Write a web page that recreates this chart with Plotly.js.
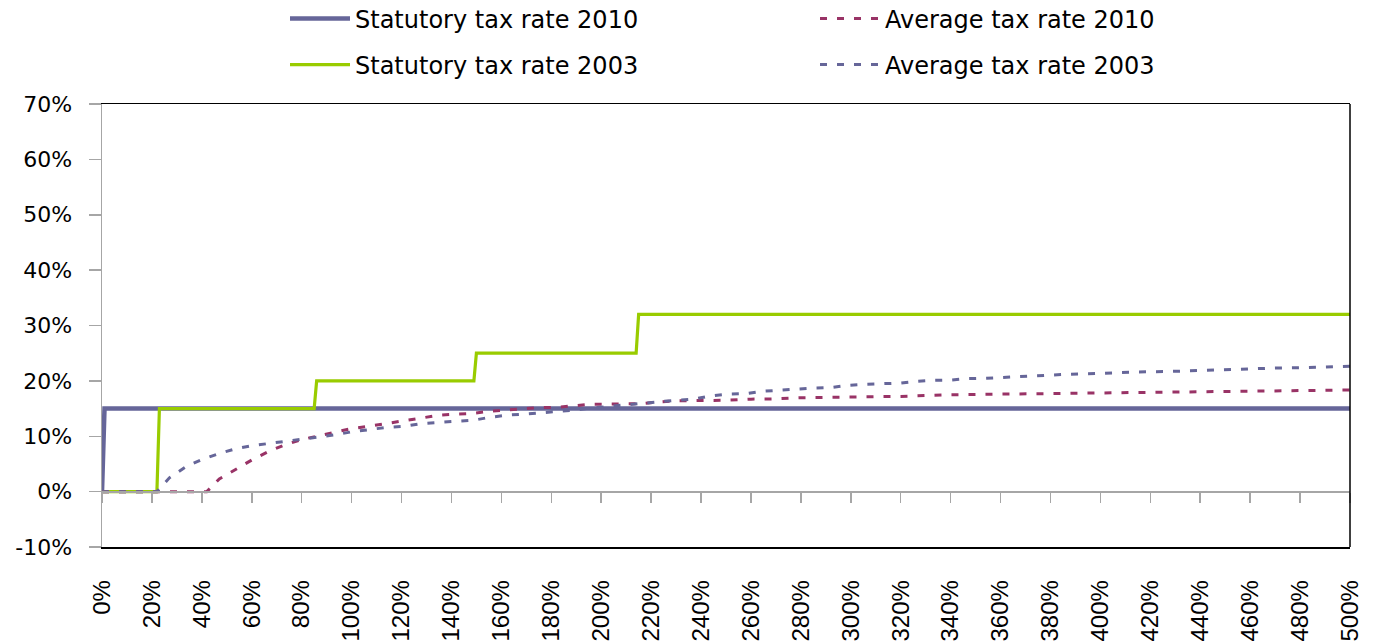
<!DOCTYPE html>
<html>
<head>
<meta charset="utf-8">
<script src="https://cdn.plot.ly/plotly-3.0.1.min.js"></script>
<style>html,body{margin:0;padding:0;background:#fff;}#chart{width:1382px;height:642px;}</style>
</head>
<body>
<div id="chart"></div>
<script>
// Income as % of average wage (x) and tax rate in % (y)
const statX2010 = [0, 1, 500];
const statY2010 = [0, 15, 15];

const statX2003 = [0, 22, 23, 85, 86, 149, 150, 214, 215, 500];
const statY2003 = [0, 0, 15, 15, 20, 20, 25, 25, 32, 32];

const avgX2010 = [0, 20, 42, 47, 50, 55, 60, 67, 73, 80, 87, 93, 100, 107, 114, 121, 128, 135, 142, 148, 155, 162, 168, 176, 182, 189, 196, 203, 210, 217, 223, 230, 240, 250, 260, 270, 280, 290, 300, 320, 340, 360, 380, 400, 420, 440, 460, 480, 500];
const avgY2010 = [0, 0, 0, 2.3, 3.1, 4.5, 5.7, 7.3, 8.4, 9.4, 10.1, 10.8, 11.4, 11.8, 12.3, 12.9, 13.3, 13.8, 14.0, 14.1, 14.5, 14.7, 15.0, 15.2, 15.2, 15.5, 15.8, 15.8, 15.9, 15.9, 16.2, 16.4, 16.45, 16.5, 16.7, 16.75, 16.95, 17.0, 17.05, 17.2, 17.5, 17.6, 17.7, 17.8, 18.0, 18.1, 18.2, 18.3, 18.35];

const avgX2003 = [0, 22, 27, 34, 40, 47, 54, 60, 67, 74, 80, 87, 94, 100, 107, 114, 121, 128, 135, 142, 149, 155, 162, 169, 175, 182, 189, 196, 203, 210, 217, 224, 230, 237, 244, 251, 258, 264, 271, 278, 285, 292, 299, 306, 313, 320, 326, 333, 340, 346, 353, 360, 373, 387, 400, 414, 428, 441, 455, 469, 483, 497, 500];
const avgY2003 = [0, 0, 2.5, 4.6, 5.8, 6.9, 7.8, 8.3, 8.7, 9.1, 9.4, 9.8, 10.3, 10.8, 11.2, 11.6, 11.8, 12.3, 12.5, 12.7, 12.9, 13.4, 13.8, 14.0, 14.2, 14.5, 14.7, 15.1, 15.4, 15.7, 15.9, 16.3, 16.5, 16.7, 17.3, 17.6, 17.7, 18.1, 18.3, 18.6, 18.7, 18.8, 19.2, 19.4, 19.5, 19.6, 19.9, 20.1, 20.15, 20.4, 20.45, 20.6, 21.0, 21.2, 21.35, 21.6, 21.7, 21.9, 22.2, 22.3, 22.4, 22.6, 22.65];

const xTickVals = [];
const xTickText = [];
for (let v = 0; v <= 500; v += 20) { xTickVals.push(v); xTickText.push(v + '%'); }

const yTickVals = [-10, 0, 10, 20, 30, 40, 50, 60, 70];
const yTickText = ['-10%', '0%', '10%', '20%', '30%', '40%', '50%', '60%', '70%'];

const seriesNames = ['Statutory tax rate 2010', 'Average tax rate 2010', 'Statutory tax rate 2003', 'Average tax rate 2003'];

const dashStyle = '7px,10px';
const traces = [
  {x: statX2010, y: statY2010, name: seriesNames[0], mode: 'lines', legend: 'legend',
   line: {color: '#666699', width: 4.5}},
  {x: statX2003, y: statY2003, name: seriesNames[2], mode: 'lines', legend: 'legend2',
   line: {color: '#99CC00', width: 3.2}},
  {x: avgX2010, y: avgY2010, name: seriesNames[1], mode: 'lines', legend: 'legend',
   line: {color: '#993366', width: 3, dash: dashStyle}},
  {x: avgX2003, y: avgY2003, name: seriesNames[3], mode: 'lines', legend: 'legend2',
   line: {color: '#666699', width: 3, dash: dashStyle}},
  {x: [], y: [], xaxis: 'x2', showlegend: false, hoverinfo: 'skip'}
];

const legendCommon = {
  orientation: 'h', xref: 'container', yref: 'container', xanchor: 'left', yanchor: 'middle',
  entrywidth: 455, entrywidthmode: 'pixels', itemwidth: 60,
  bgcolor: 'rgba(0,0,0,0)', font: {family: 'DejaVu Sans', size: 24, color: '#000'},
  traceorder: 'normal'
};

const layout = {
  width: 1382, height: 642,
  margin: {l: 102, r: 32, t: 104, b: 95},
  paper_bgcolor: '#fff', plot_bgcolor: '#fff',
  showlegend: true,
  legend: Object.assign({}, legendCommon, {x: 285 / 1382, y: 1 - 19 / 642}),
  legend2: Object.assign({}, legendCommon, {x: 285 / 1382, y: 1 - 65 / 642}),
  xaxis: {
    range: [0, 500], tickmode: 'array', tickvals: xTickVals, ticktext: xTickText,
    tickangle: -90, ticks: '', showline: true, linecolor: '#000', linewidth: 1.5, mirror: true,
    showgrid: false, zeroline: false, ticklabelstandoff: 22,
    tickfont: {family: 'Liberation Sans', size: 24, color: '#000'}
  },
  xaxis2: {
    matches: 'x', overlaying: 'x', anchor: 'free', position: 0.125,
    tickmode: 'array', tickvals: xTickVals, ticks: 'outside', ticklen: 10, tickwidth: 1.5,
    tickcolor: '#A6A6A6', showline: true, linecolor: '#A6A6A6', linewidth: 2,
    showticklabels: false, showgrid: false, zeroline: false
  },
  yaxis: {
    range: [-10, 70], tickmode: 'array', tickvals: yTickVals, ticktext: yTickText,
    ticks: 'outside', ticklen: 12,
    tickcolor: '#A6A6A6', tickwidth: 1.5, showline: true, linecolor: '#A6A6A6', linewidth: 1.5,
    showgrid: false, zeroline: false, ticklabelstandoff: 12,
    tickfont: {family: 'DejaVu Sans', size: 22, color: '#000'}
  },
  shapes: [
    {type: 'line', xref: 'x domain', yref: 'y domain', x0: 1, x1: 1, y0: 0, y1: 1,
     line: {color: '#000', width: 1.5}}
  ]
};

Plotly.newPlot('chart', traces, layout, {displayModeBar: false, staticPlot: true});
</script>
</body>
</html>
